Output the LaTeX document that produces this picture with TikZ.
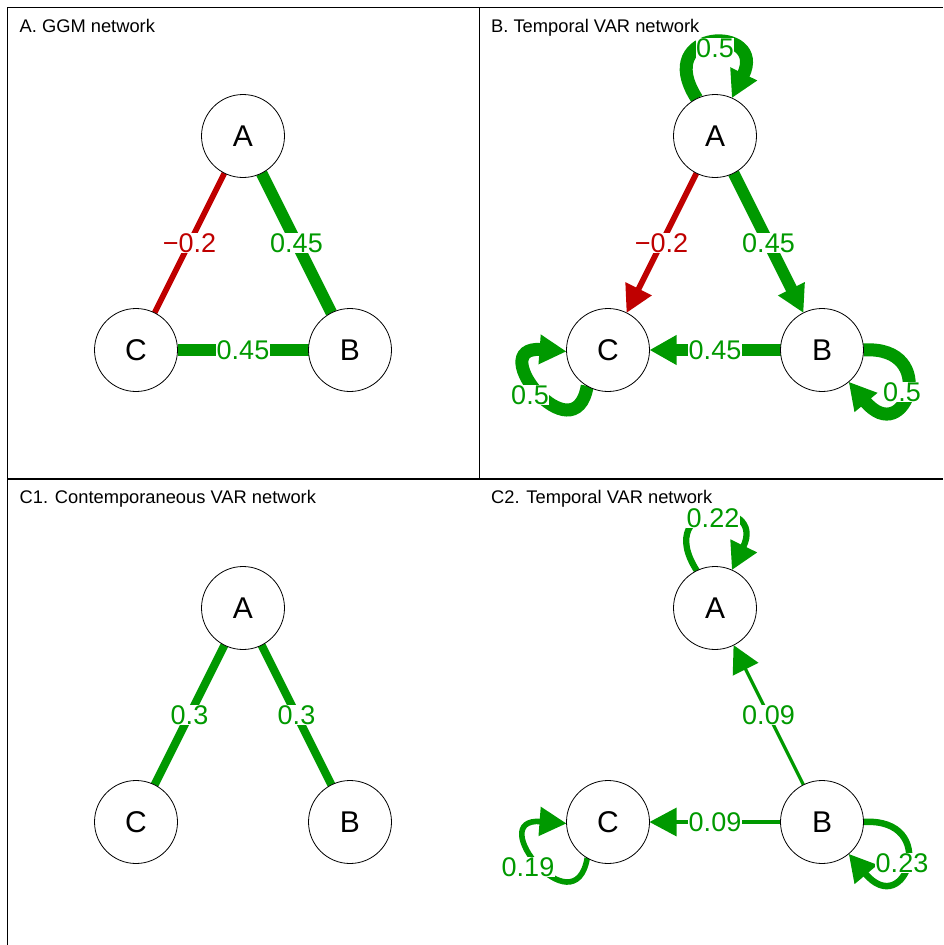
\documentclass[tikz,border=0pt]{standalone}
\usepackage{fontspec}
\setmainfont{Liberation Sans}
\usetikzlibrary{arrows.meta,calc}
\definecolor{posc}{HTML}{009900}
\definecolor{negc}{HTML}{BF0000}
\pgfdeclarelayer{bg}
\pgfsetlayers{bg,main}
\begin{document}
\begin{tikzpicture}[x=1pt,y=-1pt,
  vert/.style={circle,draw=black,line width=0.8pt,fill=white,minimum size=83pt,inner sep=0pt,outer sep=0pt,font=\fontsize{30}{30}\selectfont},
  elab/.style={fill=white,inner sep=0.3pt,font=\fontsize{27}{27}\selectfont},
  ptitle/.style={anchor=base west,inner sep=0pt,font=\fontsize{18.3}{20}\selectfont},
  arrowtip/.style={-{Triangle[length=27pt,width=28pt]}},
  frame/.style={line width=1.3pt,black},
  pe/.style={draw=posc,text=posc},
  ne/.style={draw=negc,text=negc},
]
\useasboundingbox (0,0) rectangle (943,945);
% frames
\draw[frame] (7.5,945) -- (7.5,7.5) -- (943,7.5);
\draw[frame] (479.3,7.5) -- (479.3,479);
\draw[frame] (7.5,479) -- (943,479);
% titles
\node[ptitle] (tA) at (19.5,32.5) {A. GGM network};
\node[ptitle] (tB) at (491,32.5) {B. Temporal VAR network};
\node[ptitle] (tC1) at (19.5,503.5) {C1. Contemporaneous VAR network};
\node[ptitle] (tC2) at (491,503.5) {C2. Temporal VAR network};
% ---------- Panel A
\node[vert] (Aa) at (243,136) {A};
\node[vert] (Ba) at (350,350) {B};
\node[vert] (Ca) at (136,350) {C};
\begin{pgfonlayer}{bg}
\draw[ne,line width=5.8pt] (Aa) -- node[elab] (la1) {−0.2} (Ca);
\draw[pe,line width=11.8pt] (Aa) -- node[elab] (la2) {0.45} (Ba);
\draw[pe,line width=11.8pt] (Ca) -- node[elab] (la3) {0.45} (Ba);
\end{pgfonlayer}
% ---------- Panel B
\node[vert] (Ab) at (715,136) {A};
\node[vert] (Bb) at (822,350) {B};
\node[vert] (Cb) at (608,350) {C};
\begin{pgfonlayer}{bg}
\draw[ne,line width=5.8pt,arrowtip] (Ab) -- node[elab] (lb1) {−0.2} (Cb);
\draw[pe,line width=11.8pt,arrowtip] (Ab) -- node[elab] (lb2) {0.45} (Bb);
\draw[pe,line width=11.8pt,arrowtip] (Bb) -- node[elab] (lb3) {0.45} (Cb);
\draw[pe,line width=13pt,arrowtip] (Ab.116) .. controls +(-45.5,-71) and +(36,-73.5) .. (Ab.66);
\draw[pe,line width=13pt,arrowtip] (Cb.240) .. controls +(-12.5,72) and +(-84,-6.4) .. (Cb.182);
\draw[pe,line width=13pt,arrowtip] (Bb.0) .. controls +(77,-5) and +(57,68) .. (Bb.-50);
\node[elab,text=posc] (lb4) at (715,48) {0.5};
\node[elab,text=posc] (lb5) at (530,395) {0.5};
\node[elab,text=posc] (lb6) at (902,392) {0.5};
\end{pgfonlayer}
% ---------- Panel C1
\node[vert] (Ac) at (243,608) {A};
\node[vert] (Bc) at (350,822) {B};
\node[vert] (Cc) at (136,822) {C};
\begin{pgfonlayer}{bg}
\draw[pe,line width=8.2pt] (Ac) -- node[elab] (lc1) {0.3} (Cc);
\draw[pe,line width=8.2pt] (Ac) -- node[elab] (lc2) {0.3} (Bc);
\end{pgfonlayer}
% ---------- Panel C2
\node[vert] (Ad) at (715,608) {A};
\node[vert] (Bd) at (822,822) {B};
\node[vert] (Cd) at (608,822) {C};
\begin{pgfonlayer}{bg}
\draw[pe,line width=3.2pt,arrowtip] (Bd) -- node[elab] (ld1) {0.09} (Ad);
\draw[pe,line width=3.2pt,arrowtip] (Bd) -- node[elab] (ld2) {0.09} (Cd);
\draw[pe,line width=6.3pt,arrowtip] (Ad.116) .. controls +(-45.5,-71) and +(36,-73.5) .. (Ad.66);
\draw[pe,line width=5.6pt,arrowtip] (Cd.240) .. controls +(-12.5,72) and +(-84,-6.4) .. (Cd.182);
\draw[pe,line width=6.5pt,arrowtip] (Bd.0) .. controls +(77,-5) and +(57,68) .. (Bd.-50);
\node[elab,text=posc] (ld3) at (713,518) {0.22};
\node[elab,text=posc] (ld4) at (528,867) {0.19};
\node[elab,text=posc] (ld5) at (902,863) {0.23};
\end{pgfonlayer}
\end{tikzpicture}
\end{document}
